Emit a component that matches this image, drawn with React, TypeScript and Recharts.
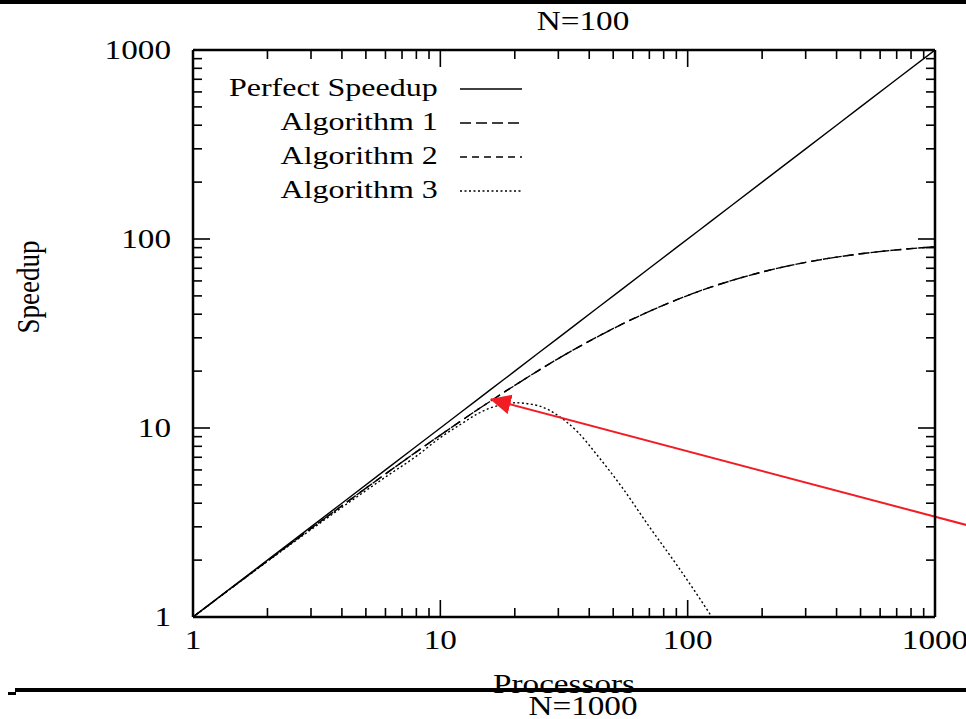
import React from "react";
import {
  LineChart,
  Line,
  XAxis,
  YAxis,
  Legend,
  ReferenceLine,
} from "recharts";

const procs = [1, 2, 3, 4, 6, 8, 10, 12, 14, 16, 18, 20, 25, 30, 36, 43, 54, 70, 90, 112, 124, 150, 200, 300, 400, 500, 700, 1000];
const perfect = [1, 2, 3, 4, 6, 8, 10, 12, 14, 16, 18, 20, 25, 30, 36, 43, 54, 70, 90, 112, 124, 150, 200, 300, 400, 500, 700, 1000];
const alg1 = [1, 1.98, 2.94, 3.88, 5.71, 7.48, 9.17, 10.8, 12.4, 13.9, 15.4, 16.8, 20.2, 23.3, 26.7, 30.3, 35.3, 41.4, 47.6, 53.1, 55.6, 60.2, 66.9, 75.2, 80.2, 83.5, 87.6, 91.0];
const alg2 = [1, 1.98, 2.94, 3.88, 5.71, 7.48, 9.17, 10.8, 12.4, 13.9, 15.4, 16.8, 20.2, 23.3, 26.7, 30.3, 35.3, 41.4, 47.6, 53.1, 55.6, 60.2, 66.9, 75.2, 80.2, 83.5, 87.6, 91.0];
const alg3 = [1, 1.97, 2.9, 3.8, 5.5, 7.1, 8.9, 10.4, 11.8, 12.8, 13.3, 13.6, 13.1, 11.6, 9.5, 7.2, 4.9, 3.0, 1.9, 1.25, 1.02, null, null, null, null, null, null, null];

const majorTicks = [1, 10, 100, 1000];
const allTicks = [1, 2, 3, 4, 5, 6, 7, 8, 9, 10, 20, 30, 40, 50, 60, 70, 80, 90, 100, 200, 300, 400, 500, 600, 700, 800, 900, 1000];

// red annotation arrow: tail off the right edge, tip at the Alg 3 peak
const arrowTail = { x: 1500, y: 2.95 };
const arrowTip = { x: 16, y: 14.2 };

const series = [
  { key: "perfect", name: "Perfect Speedup", dash: undefined },
  { key: "alg1", name: "Algorithm 1", dash: "11 5" },
  { key: "alg2", name: "Algorithm 2", dash: "7 5" },
  { key: "alg3", name: "Algorithm 3", dash: "2 2.5" },
];

const data = procs.map((p, i) => ({
  p,
  perfect: perfect[i],
  alg1: alg1[i],
  alg2: alg2[i],
  alg3: alg3[i],
}));

const serif = "'Liberation Serif', 'Times New Roman', serif";
const SX = 1.23; // the scanned slide is stretched sideways
const MAJ = 17;
const MIN = 9;
const isMajor = (v: number) => majorTicks.includes(v);

function StretchText({ x, y, anchor, size, children }: any) {
  return (
    <text
      transform={`translate(${x},${y}) scale(${SX},1)`}
      x={0}
      y={0}
      textAnchor={anchor}
      fontFamily={serif}
      fontSize={size}
      fill="#000"
    >
      {children}
    </text>
  );
}

function BottomTick(props: any) {
  const { x, y, payload } = props;
  const v = payload.value;
  return (
    <g>
      <line x1={x} y1={y} x2={x} y2={y - (isMajor(v) ? MAJ : MIN)} stroke="#000" strokeWidth={1.6} />
      {isMajor(v) && (
        <StretchText x={x} y={y + 32} anchor="middle" size={27}>
          {v}
        </StretchText>
      )}
    </g>
  );
}

function TopTick(props: any) {
  const { x, y, payload } = props;
  return <line x1={x} y1={y} x2={x} y2={y + (isMajor(payload.value) ? MAJ : MIN)} stroke="#000" strokeWidth={1.6} />;
}

function LeftTick(props: any) {
  const { x, y, payload } = props;
  const v = payload.value;
  return (
    <g>
      <line x1={x} y1={y} x2={x + (isMajor(v) ? MAJ : MIN)} y2={y} stroke="#000" strokeWidth={1.6} />
      {isMajor(v) && (
        <StretchText x={x - 22} y={y + 9} anchor="end" size={27}>
          {v}
        </StretchText>
      )}
    </g>
  );
}

function RightTick(props: any) {
  const { x, y, payload } = props;
  return <line x1={x} y1={y} x2={x - (isMajor(payload.value) ? MAJ : MIN)} y2={y} stroke="#000" strokeWidth={1.6} />;
}

function LegendBox() {
  return (
    <div style={{ fontFamily: serif, fontSize: 26, color: "#000", lineHeight: "34px" }}>
      {series.map((s) => (
        <div key={s.key} style={{ position: "relative", height: 34 }}>
          <div
            style={{
              position: "absolute",
              right: 92,
              top: 0,
              whiteSpace: "nowrap",
              transform: `scaleX(${SX})`,
              transformOrigin: "right center",
            }}
          >
            {s.name}
          </div>
          <svg width={62} height={10} style={{ position: "absolute", right: 8, top: 13 }}>
            <line x1={0} y1={5} x2={62} y2={5} stroke="#000" strokeWidth={1.4} strokeDasharray={s.dash} />
          </svg>
        </div>
      ))}
    </div>
  );
}

function Arrow(props: any) {
  const { x1, y1, x2, y2 } = props;
  return <line x1={x1} y1={y1} x2={x2} y2={y2} stroke="#f21c24" strokeWidth={2} markerEnd="url(#redhead)" />;
}

function SpeedupLabel() {
  return (
    <text
      transform="translate(39,287) rotate(-90) scale(1,1.2)"
      x={0}
      y={0}
      textAnchor="middle"
      fontFamily={serif}
      fontSize={27}
      fill="#000"
    >
      Speedup
    </text>
  );
}

function ProcessorsLabel(props: any) {
  const { viewBox } = props;
  const cx = viewBox.x + viewBox.width / 2;
  return (
    <StretchText x={cx} y={viewBox.y + 76} anchor="middle" size={27}>
      Processors
    </StretchText>
  );
}

export default function App() {
  const axisLine = { stroke: "#000", strokeWidth: 2.5 };
  const heading = {
    position: "absolute" as const,
    left: 433,
    width: 300,
    textAlign: "center" as const,
    fontFamily: serif,
    fontSize: 27,
    lineHeight: "30px",
    transform: `scaleX(${SX})`,
  };
  return (
    <div
      style={{
        position: "absolute",
        left: 0,
        top: 0,
        width: 966,
        height: 719,
        background: "#fff",
        overflow: "hidden",
      }}
    >
      <div style={{ position: "absolute", left: 0, top: 0, width: 966, height: 4, background: "#000" }} />
      <div style={{ ...heading, top: 6 }}>N=100</div>
      <LineChart
        width={966}
        height={719}
        data={data}
        margin={{ top: 49, right: 30, bottom: 101, left: 192 }}
      >
        <defs>
          <marker id="redhead" markerUnits="userSpaceOnUse" markerWidth={22} markerHeight={22} refX={20} refY={10} orient="auto">
            <path d="M0,0 L21,10 L0,20 Z" fill="#f21c24" />
          </marker>
        </defs>
        <XAxis
          xAxisId="b"
          dataKey="p"
          type="number"
          scale="log"
          domain={[1, 1000]}
          allowDataOverflow
          ticks={allTicks}
          interval={0}
          height={1}
          tickSize={0}
          tickMargin={0}
          axisLine={axisLine}
          tickLine={false}
          tick={<BottomTick />}
          label={{ content: (p: any) => <ProcessorsLabel {...p} /> }}
        />
        <XAxis
          xAxisId="t"
          orientation="top"
          dataKey="p"
          type="number"
          scale="log"
          domain={[1, 1000]}
          allowDataOverflow
          ticks={allTicks}
          interval={0}
          height={1}
          tickSize={0}
          tickMargin={0}
          axisLine={axisLine}
          tickLine={false}
          tick={<TopTick />}
        />
        <YAxis
          yAxisId="l"
          type="number"
          scale="log"
          domain={[1, 1000]}
          allowDataOverflow
          ticks={allTicks}
          interval={0}
          width={1}
          tickSize={0}
          tickMargin={0}
          axisLine={axisLine}
          tickLine={false}
          tick={<LeftTick />}
          label={{ content: () => <SpeedupLabel /> }}
        />
        <YAxis
          yAxisId="r"
          orientation="right"
          type="number"
          scale="log"
          domain={[1, 1000]}
          allowDataOverflow
          ticks={allTicks}
          interval={0}
          width={1}
          tickSize={0}
          tickMargin={0}
          axisLine={axisLine}
          tickLine={false}
          tick={<RightTick />}
        />
        {series.map((s) => (
          <Line
            key={s.key}
            xAxisId="b"
            yAxisId="l"
            dataKey={s.key}
            name={s.name}
            type={s.key === "perfect" ? "linear" : "monotone"}
            stroke="#000"
            strokeWidth={1.4}
            strokeDasharray={s.dash}
            dot={false}
            activeDot={false}
            connectNulls={false}
            isAnimationActive={false}
          />
        ))}
        <ReferenceLine
          xAxisId="b"
          yAxisId="l"
          segment={[arrowTail, arrowTip]}
          ifOverflow="visible"
          shape={<Arrow />}
        />
        <Legend
          layout="vertical"
          align="center"
          verticalAlign="middle"
          wrapperStyle={{ position: "absolute", left: 200, top: 71, width: 330 }}
          content={() => <LegendBox />}
        />
      </LineChart>
      <div style={{ ...heading, top: 691 }}>N=1000</div>
      <div style={{ position: "absolute", left: 15, top: 688, width: 951, height: 4, background: "#000" }} />
      <div style={{ position: "absolute", left: 8, top: 692, width: 8, height: 3, background: "#000" }} />
    </div>
  );
}
